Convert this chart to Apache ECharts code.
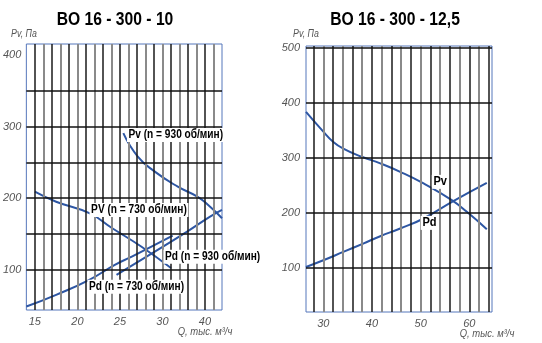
<!DOCTYPE html>
<html><head><meta charset="utf-8">
<script src="https://cdn.jsdelivr.net/npm/echarts@6/dist/echarts.min.js"></script>
<style>html,body{margin:0;padding:0;background:#fff}#c{width:542px;height:343px}</style>
</head><body><div id="c"></div>
<script>
// ---- data ----
const leftTitle = 'BO 16 - 300 - 10';
const rightTitle = 'BO 16 - 300 - 12,5';
const yName = 'Pv, Па';
const xName = 'Q, тыс. м³/ч';

const leftXTickValues = [15, 20, 25, 30, 35];
const leftXTickLabels = ['15', '20', '25', '30', '40'];
const leftYTickValues = [100, 200, 300, 400];
const leftXGrid = [15,16,17,18,19,20,21,22,23,24,25,26,27,28,29,30,31,32,33,34,35,36];
const leftYGrid = [100, 150, 200, 250, 300, 350];

const rightXTickValues = [30, 40, 50, 60];
const rightXTickLabels = ['30', '40', '50', '60'];
const rightYTickValues = [100, 200, 300, 400, 500];
const rightXGrid = [28,30,32,34,36,38,40,42,44,46,48,50,52,54,56,58,60,62,64];
const rightYGrid = [100, 200, 300, 400, 500];

const pv730 = [[15.0,209],[17.5,195],[21.4,179],[24.1,158],[27.5,132.5],[31.0,102.5]];
const pv930 = [[25.4,290.6],[27.1,258],[29.1,237],[31.8,216],[34.1,202],[35.6,188],[37.0,172]];
const pd730 = [[14.0,48.8],[17.5,65.2],[21.4,86.1],[24.4,107],[26.4,118.5],[31.2,147.8]];
const pd930 = [[24.6,93],[29.1,125.5],[32.9,153.4],[35.6,174.3],[37.0,183.6]];

const pvR = [[26.44,384],[30,348],[32.06,329],[34.1,317],[37.9,302],[41.7,290],[45.8,274.6],[50.6,253.4],[56.4,223],[59.5,201.6],[63.6,170]];
const pdR = [[26.44,101],[30,113.3],[34.1,128.5],[38.2,143.8],[41.7,157.2],[45.8,171.2],[50.6,189.5],[56.8,221.6],[63.6,254.5]];

const leftLabels = [
  {text:'Pv (n = 930 об/мин)', at:[31.57,288.2]},
  {text:'PV (n = 730 об/мин)', at:[27.24,183.6]},
  {text:'Pd (n = 930 об/мин)', at:[35.9,118.1]},
  {text:'Pd (n = 730 об/мин)', at:[26.95,76.3]}
];
const rightLabels = [
  {text:'Pv', at:[54.03,256.3]},
  {text:'Pd', at:[51.82,181.5]}
];

// ---- styling ----
const FONT = "'Liberation Sans',Arial,sans-serif";
const BLUE = '#2d56a3';
const tickStyle = {fontStyle:'italic', fontFamily:FONT, fontSize:11, color:'#555'};

function gridLines(xIdx, xs, ys) {
  const data = [];
  xs.forEach((v,i)=>data.push({xAxis:v, lineStyle:{color: i%2===0 ? '#1a1a1a' : '#8a8a8a', width: i%2===0 ? 1.5 : 2, type:'solid'}}));
  ys.forEach(v=>data.push({yAxis:v, lineStyle:{color:'#111', width:1.5, type:'solid'}}));
  return {
    type:'line', xAxisIndex:xIdx, yAxisIndex:xIdx, data:[], silent:true, z:1,
    markLine:{silent:true, symbol:['none','none'], label:{show:false}, data:data, animation:false}
  };
}
function curve(idx, d) {
  return {type:'line', xAxisIndex:idx, yAxisIndex:idx, data:d, smooth:true, showSymbol:false, symbol:'none',
    lineStyle:{color:BLUE, width:2}, z:3, animation:false};
}
function txt(x, y, text, font, fill, sx, bg) {
  const st = {text:text, align:'center', verticalAlign:'middle', font:font, fill:fill};
  if (bg) { st.backgroundColor = '#fff'; st.padding = [1,2,0,2]; }
  return {type:'text', x:x, y:y, scaleX:sx, z:100, silent:true, style:st};
}

const chart = echarts.init(document.getElementById('c'), null, {renderer:'canvas'});
const axisCommon = {axisLine:{show:false}, axisTick:{show:false}, splitLine:{show:false}};
chart.setOption({
  animation:false,
  grid:[
    {left:23, top:44, width:199, height:266, show:true, borderColor:'#5577bb', borderWidth:1},
    {left:306, top:46, width:186, height:266, show:true, borderColor:'#5577bb', borderWidth:1}
  ],
  xAxis:[
    Object.assign({type:'value', gridIndex:0, min:14, max:37,
      axisLabel:Object.assign({customValues:leftXTickValues, margin:6,
        formatter:v=>{const i=leftXTickValues.indexOf(v); return i>=0?leftXTickLabels[i]:'';}}, tickStyle)}, axisCommon),
    Object.assign({type:'value', gridIndex:1, min:26.44, max:64.67,
      axisLabel:Object.assign({customValues:rightXTickValues, margin:6,
        formatter:v=>{const i=rightXTickValues.indexOf(v); return i>=0?rightXTickLabels[i]:'';}}, tickStyle)}, axisCommon)
  ],
  yAxis:[
    Object.assign({type:'value', gridIndex:0, min:44, max:415,
      axisLabel:Object.assign({customValues:leftYTickValues, margin:5}, tickStyle)}, axisCommon),
    Object.assign({type:'value', gridIndex:1, min:19, max:504,
      axisLabel:Object.assign({customValues:rightYTickValues, margin:6}, tickStyle)}, axisCommon)
  ],
  series:[
    gridLines(0, leftXGrid, leftYGrid),
    gridLines(1, rightXGrid, rightYGrid),
    curve(0, pv730), curve(0, pv930), curve(0, pd730), curve(0, pd930),
    curve(1, pvR), curve(1, pdR)
  ]
});

const g = [
  txt(115, 20, leftTitle, "bold 18px "+FONT, '#000', 0.87),
  txt(395, 20, rightTitle, "bold 18px "+FONT, '#000', 0.87),
  txt(24, 34, yName, "italic 11px "+FONT, '#555', 0.8),
  txt(306, 34, yName, "italic 11px "+FONT, '#555', 0.8),
  txt(205, 332, xName, "italic 11px "+FONT, '#555', 0.86),
  txt(487, 334, xName, "italic 11px "+FONT, '#555', 0.86)
];
leftLabels.forEach(l=>{ const p = chart.convertToPixel({gridIndex:0}, l.at); g.push(txt(p[0], p[1], l.text, "bold 13px "+FONT, '#000', 0.78, true)); });
rightLabels.forEach(l=>{ const p = chart.convertToPixel({gridIndex:1}, l.at); g.push(txt(p[0], p[1], l.text, "bold 13px "+FONT, '#000', 0.85, true)); });
chart.setOption({graphic:g});
</script></body></html>
